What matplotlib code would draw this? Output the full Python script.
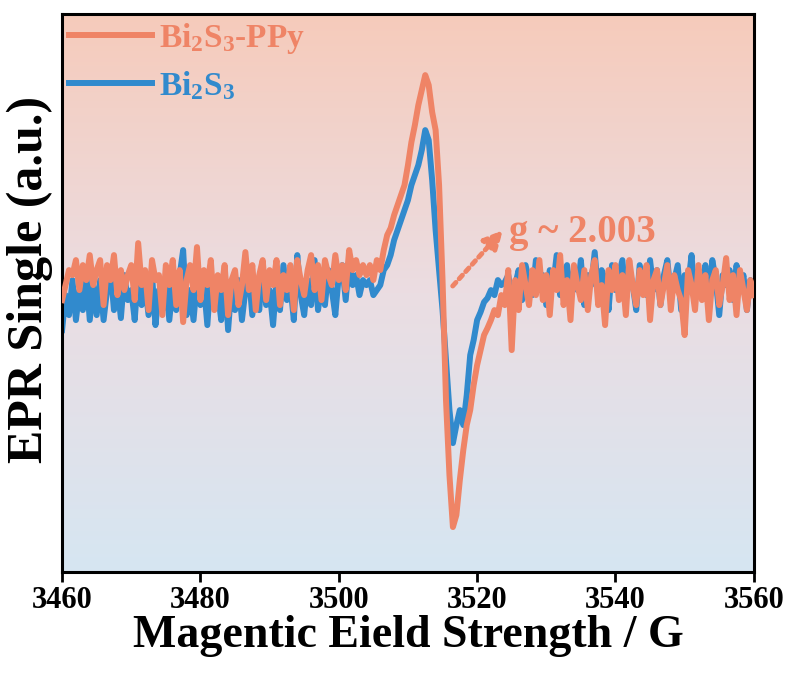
import numpy as np
import matplotlib
matplotlib.use("Agg")
import matplotlib.pyplot as plt
from matplotlib.colors import LinearSegmentedColormap

plt.rcParams['font.family'] = ['Liberation Serif', 'DejaVu Serif']
plt.rcParams['font.weight'] = 'bold'
plt.rcParams['mathtext.fontset'] = 'custom'
plt.rcParams['mathtext.rm'] = 'Liberation Serif:bold'
plt.rcParams['mathtext.it'] = 'Liberation Serif:bold'
plt.rcParams['mathtext.bf'] = 'Liberation Serif:bold'

# field axis: 3460 -> 3560 G, 0.5 G step
field = np.arange(3460, 3560.25, 0.5)

# Bi2S3-PPy signal (a.u.)
ppy_left = [-10, 5, 20, 15, 30, 0, 25, 10, 35, 5,
            20, 30, -15, 25, 10, 35, -5, 20, 0, 15,
            25, -10, 47, 5, 20, -20, 30, 10, 15, -25,
            25, 5, 30, -15, 20, -32, 10, 25, 0, 43,
            -10, 20, 5, 30, -20, 15, 0, 25, -25, 10,
            20, -15, 5, 38, 0, 25, -20, 15, 30, -10,
            20, 5, 30, -15, 15, 0, 25, -20, 30, 10,
            -5, 20, 35, 0, 25, -10, 30, 15, 5, 35,
            10, 25, 0, 40, 20, 30, 15, 25]
ppy_peak = [15, 25, 10, 30, 20, 40, 55, 62, 75, 85,
            95, 105, 125, 148, 165, 185, 200, 215, 205, 178,
            160, 105, 10, -110, -185, -237, -225, -190, -160, -135,
            -120, -95, -75, -60, -45, -38, -30, -20, -25, -5,
            -15, 20, -60]
ppy_right = [10, -20, 25, 5, -15, 20, -5, 30, -10, 15,
             -25, 20, 0, 35, -15, 10, -30, 25, 5, -10,
             20, -20, 15, 30, -15, 5, -35, 20, 0, 25,
             -10, 15, -25, 30, 5, -15, 20, -5, 25, -30,
             10, 20, -15, 5, 25, -20, 15, 0, -10, -45,
             20, 5, -20, 25, -10, 15, -30, 10, 20, -15,
             5, 32, -10, 15, -25, 20, 0, -20, 10, -5]

# Bi2S3 signal (a.u.)
bis_left = [-40, -5, -25, 10, -30, 0, -20, 15, -30, 5,
            -25, 10, -30, 0, 20, -20, 5, -28, 15, -10,
            0, -30, 20, -15, 5, -25, 15, -35, 0, -20,
            10, -30, 5, -20, 15, 40, -25, 0, -30, 10,
            -15, 5, -35, 15, -10, 0, -30, 20, -40, 5,
            -20, 10, -30, 0, 15, -25, 5, -20, 25, -15,
            0, -35, 10, -20, 25, -10, 5, -30, 35, -5,
            -25, 10, -15, 30, -20, 5, -15, 20, 0, -25,
            15, 25, -10, 30, 5, 15, -5, 10]
bis_peak = [5, 10, -5, 0, 5, 20, 25, 35, 50, 60,
            70, 80, 90, 105, 115, 125, 140, 160, 150, 110,
            60, 20, -20, -70, -120, -153, -135, -120, -135, -105,
            -65, -50, -30, -22, -12, -8, 0, -5, 10, 5,
            8, 15, -5]
bis_right = [5, 20, -10, 25, 10, -5, 30, 0, 15, -15,
             20, 5, 35, -5, 15, 25, -10, 20, 0, 30,
             -15, 15, 5, 38, -5, 20, 10, -20, 25, 0,
             15, 30, -10, 20, 5, -20, 25, 10, -5, 30,
             0, 20, -15, 15, 30, -5, 10, 25, -20, 15,
             5, 35, -10, 20, 0, 25, -15, 30, 10, -25,
             15, 5, 20, -10, 25, 0, 15, -20, 10, 5]

ppy = np.array(ppy_left + ppy_peak + ppy_right)
bis = np.array(bis_left + bis_peak + bis_right)

orange = '#EF8466'
blue = '#318ACD'

fig = plt.figure(figsize=(7.96, 6.73), dpi=100)
ax = fig.add_axes([0.078, 0.150, 0.869, 0.829])

# background gradient: light blue (bottom) -> salmon (top)
bg = LinearSegmentedColormap.from_list('bg', ['#D6E6F2', '#EBDDE2', '#F6CBBB'])
ax.imshow(np.linspace(0, 1, 256).reshape(-1, 1), extent=[0, 1, 0, 1],
          transform=ax.transAxes, aspect='auto', cmap=bg, origin='lower', zorder=0)

l2, = ax.plot(field, bis, color=blue, lw=4.3, solid_joinstyle='round', zorder=2,
              label=r'Bi$_2$S$_3$')
l1, = ax.plot(field, ppy, color=orange, lw=4.3, solid_joinstyle='round', zorder=3,
              label=r'Bi$_2$S$_3$-PPy')

ax.set_xlim(3460, 3560)
ax.set_ylim(-282, 276)
ax.set_xticks([3460, 3480, 3500, 3520, 3540, 3560])
ax.set_yticks([])
ax.tick_params(axis='x', direction='out', length=7, width=2, labelsize=22, pad=3)
for s in ax.spines.values():
    s.set_linewidth(2.2)

ax.set_xlabel('Magentic Eield Strength / G', fontsize=33, fontweight='bold', labelpad=0)
ax.set_ylabel('EPR Single (a.u.)', fontsize=36, fontweight='bold')
ax.yaxis.set_label_coords(-0.013, 0.525)

leg = ax.legend(handles=[l1, l2], loc='upper left', frameon=False, fontsize=24,
                handlelength=2.5, handletextpad=0.2, borderaxespad=0.0,
                borderpad=0.2, labelspacing=0.4)
for txt, c in zip(leg.get_texts(), [orange, blue]):
    txt.set_color(c)

ax.annotate('', xy=(3524.0, 62), xytext=(3516.2, 2),
            arrowprops=dict(arrowstyle='-|>', color=orange, lw=3.5,
                            linestyle=(0, (1, 1)), mutation_scale=28),
            zorder=4)
ax.text(3524.6, 58, 'g ~ 2.003', color=orange, fontsize=28, fontweight='bold',
        ha='left', va='center', zorder=4)

fig.savefig('out.png', dpi=100)
